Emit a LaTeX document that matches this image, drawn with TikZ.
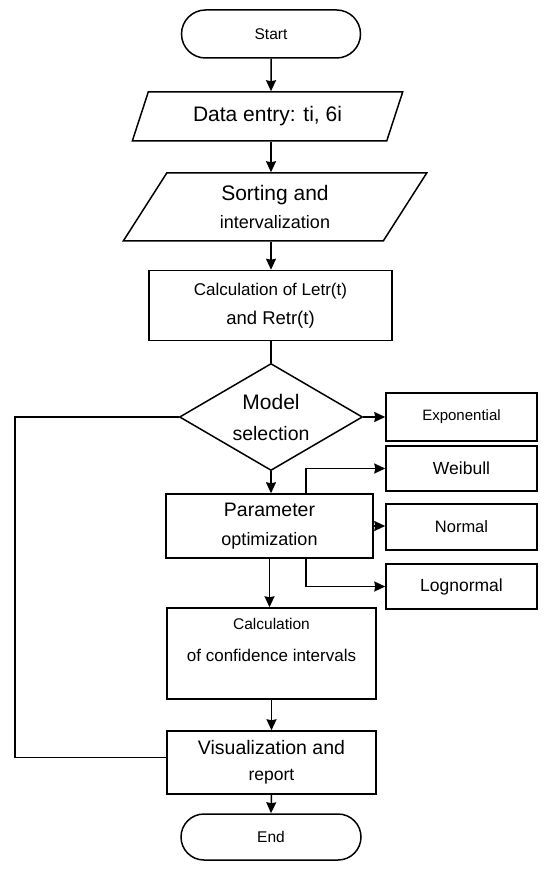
\documentclass[tikz,border=0pt]{standalone}
\usepackage{fontspec}
\setmainfont{Liberation Sans}
\usepackage{tikz}
\usetikzlibrary{
  arrows.meta,
  positioning,
  shapes.geometric,
  shapes.misc
}
\newcommand{\fs}[2]{\fontsize{#1}{#2}\selectfont}

\begin{document}
\begin{tikzpicture}[
  x=1pt, y=-1pt,
  term/.style={draw, rounded rectangle, line width=1.5pt, minimum width=179pt, minimum height=48pt, inner sep=0pt},
  io/.style={draw, trapezium, trapezium left angle=63, trapezium right angle=117, trapezium stretches=true, line width=1.5pt, inner sep=0pt, align=center},
  proc/.style={draw, rectangle, line width=1.5pt, inner sep=0pt, align=center},
  decide/.style={draw, diamond, aspect=1.71, line width=1.5pt, inner sep=0pt, align=center, minimum width=183pt, minimum height=107pt},
  arr/.style={draw, line width=1.5pt, -{Stealth[length=11pt, width=10pt, inset=1pt]}},
  link/.style={draw, line width=1.5pt}
]
\useasboundingbox (0,0) rectangle (550,874);

% main column
\node[term, font=\fs{15.5}{18}] (start) at (271,34) {Start};
\node[io, minimum width=271pt, minimum height=49pt, font=\fs{21}{25}] (data) at (267.5,116.5) {Data entry: ti, 6i};
\node[io, minimum width=304pt, minimum height=68pt, font=\fs{21}{28}] (sort) at (275,207) {Sorting and\\\fs{18}{28}intervalization};
\node[proc, minimum width=243pt, minimum height=70pt, font=\fs{17}{29}] (calc) at (270.5,305.5) {Calculation of Letr(t)\\\fs{18.5}{29}and Retr(t)};
\node[decide, font=\fs{21}{31}] (model) at (271,417) {Model\\\fs{19.5}{31}selection};
\node[proc, minimum width=207pt, minimum height=64pt, font=\fs{19.5}{29}] (param) at (269.5,526) {Parameter\\\fs{18}{29}optimization};
\node[proc, minimum width=209pt, minimum height=91pt, text depth=27pt, font=\fs{15.5}{32}] (conf) at (271.5,653.5) {Calculation\\\fs{17}{32}of confidence intervals};
\node[proc, minimum width=209pt, minimum height=63pt, font=\fs{19.5}{26}] (vis) at (271.5,762.5) {Visualization and\\\fs{17.5}{26}report};
\node[term, minimum width=180pt, minimum height=46pt, font=\fs{15.5}{18}] (end) at (271,837) {End};

% model boxes
\node[proc, minimum width=151pt, minimum height=48pt, font=\fs{15}{18}] (expo) at (461.5,417) {Exponential};
\node[proc, minimum width=151pt, minimum height=45pt, font=\fs{17.5}{21}] (weib) at (461.5,468.5) {Weibull};
\node[proc, minimum width=151pt, minimum height=46pt, font=\fs{16.5}{20}] (norm) at (461.5,527) {Normal};
\node[proc, minimum width=151pt, minimum height=45pt, font=\fs{17.5}{21}] (logn) at (461.5,586.5) {Lognormal};

\coordinate (back) at (15,417);

% flow
\draw[arr] (start) -- (start |- data.north);
\draw[arr] (start |- data.south) -- (start |- sort.north);
\draw[arr] (start |- sort.south) -- (start |- calc.north);
\draw[link] (model.north |- calc.south) -- (model.north);
\draw[arr] (model.east) -- (expo.west);
\draw[arr] (model.south) -- (model.south |- param.north);
\draw[arr] (param.south) -- (param.south |- conf.north);
\draw[arr] (conf.south) -- (vis.north);
\draw[arr] (vis.south) -- (end.north);

% branches
\draw[arr] ([xshift=36.5pt]param.north) |- (weib.west);
\draw[arr] (param.east) -- (param.east -| norm.west);
\draw[arr] ([xshift=36.5pt]param.south) |- (logn.west);

% return line
\draw[link] (model.west) -- (back) |- ([yshift=5pt]vis.west);

\end{tikzpicture}
\end{document}
